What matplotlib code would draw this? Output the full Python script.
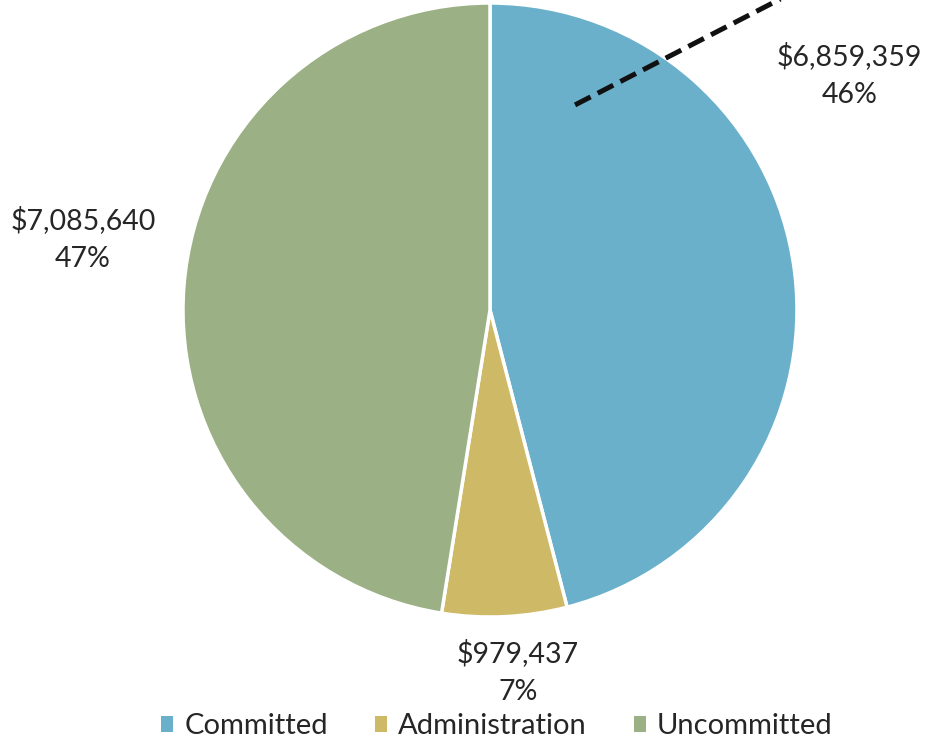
import matplotlib
matplotlib.use("Agg")
import matplotlib.pyplot as plt
from matplotlib.patches import Patch

categories = ["Committed", "Administration", "Uncommitted"]
values = [6859359, 979437, 7085640]
colors = ["#6BB0CB", "#CEB966", "#9BB084"]

plt.rcParams['font.family'] = ['Lato', 'DejaVu Sans']

W, H = 927, 742
fig = plt.figure(figsize=(W / 100, H / 100), dpi=100)
cx, cy, r = 490, 310, 307
ax = fig.add_axes([(cx - r) / W, (H - cy - r) / H, 2 * r / W, 2 * r / H])

wedges, _ = ax.pie(values, colors=colors, startangle=90, counterclock=False,
                   radius=1.0,
                   wedgeprops=dict(edgecolor="white", linewidth=2.5))
ax.set_xlim(-1, 1)
ax.set_ylim(-1, 1)
ax.set_aspect("equal")
ax.axis("off")

total = sum(values)
label_pos = [(1.17, 0.765), (0.091, -1.18), (-1.326, 0.232)]
for v, (x, y) in zip(values, label_pos):
    ax.text(x, y, "${:,}\n{:.0f}%".format(v, 100 * v / total),
            ha="center", va="center", fontsize=20.5, color="#262626",
            linespacing=1.55, clip_on=False)

# dashed leader line
ax.plot([0.277, 1.25], [0.668, 1.17], ls=(0, (3.5, 1.6)), color="#111111",
        lw=3.6, clip_on=False, dash_capstyle="butt")

handles = [Patch(facecolor=c, edgecolor="none") for c in colors]
fig.legend(handles, categories, loc="center", bbox_to_anchor=(0.536, 0.021),
           ncol=3, frameon=False, fontsize=21, handlelength=0.42,
           handleheight=0.42, handletextpad=0.38, columnspacing=1.6,
           labelcolor="#262626")

fig.savefig("out.png", dpi=100)
